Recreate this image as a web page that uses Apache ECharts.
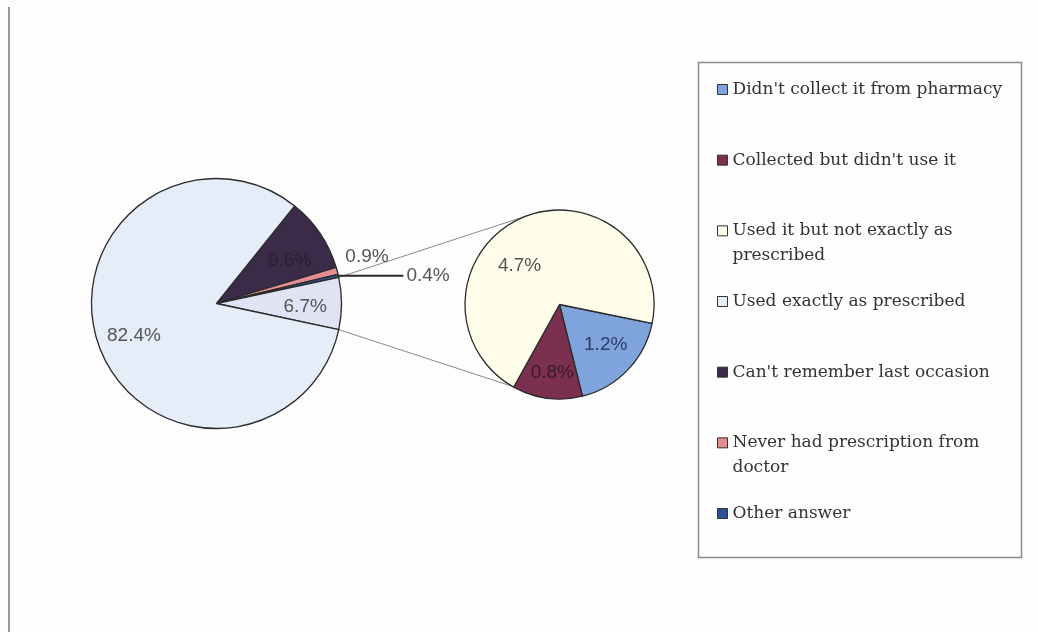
<!DOCTYPE html>
<html>
<head>
<meta charset="utf-8">
<script src="https://cdn.jsdelivr.net/npm/echarts@6/dist/echarts.min.js"></script>
<style>
  html, body { margin: 0; padding: 0; background: #fdfdfd; }
  #chart { width: 1038px; height: 632px; }
</style>
</head>
<body>
<div id="chart"></div>
<script>
// Main pie answers (percent of respondents)
const mainNames = [
  "Can't remember last occasion",
  "Never had prescription from doctor",
  "Other answer",
  "Used exactly as prescribed"
];
const mainValues = [9.6, 0.9, 0.4, 82.4];

// Answers split out into the secondary pie
const subNames = [
  "Didn't collect it from pharmacy",
  "Collected but didn't use it",
  "Used it but not exactly as prescribed"
];
const subValues = [1.2, 0.8, 4.7];

// Legend order
const legendNames = [
  "Didn't collect it from pharmacy",
  "Collected but didn't use it",
  "Used it but not exactly as prescribed",
  "Used exactly as prescribed",
  "Can't remember last occasion",
  "Never had prescription from doctor",
  "Other answer"
];

// ---- styling / layout ----
const COLORS = {
  "Didn't collect it from pharmacy": '#7fa3db',
  "Collected but didn't use it": '#7b3050',
  "Used it but not exactly as prescribed": '#fdfde9',
  "Used exactly as prescribed": '#e5edf8',
  "Can't remember last occasion": '#3b2a48',
  "Never had prescription from doctor": '#e58e92',
  "Other answer": '#2f4f93',
  "Other": '#dfe3f4'
};
const LABEL_COLORS = {
  "Didn't collect it from pharmacy": '#2e3c68',
  "Collected but didn't use it": '#3a1a2a',
  "Can't remember last occasion": '#2a2032'
};
const WRAP = {
  "Used it but not exactly as prescribed": ["Used it but not exactly as", "prescribed"],
  "Never had prescription from doctor": ["Never had prescription from", "doctor"]
};

const MAIN_C = [216.5, 303.5], MAIN_R = 125;
const SUB_C = [559.5, 304.5], SUB_R = 94.5;
const SUB_START = -11.5;
const SUB_LINK_ANGLES = [110, 240];

// label placement: radius factor and angle nudge (degrees) from the slice bisector
const MAIN_LABEL = [[0.68, -3.5], [1.26, 2], null, [0.71, -2], [0.71, 2]];
const SUB_LABEL = [[0.645, 3], [0.73, 1.5], [0.59, 21]];

const groupValue = Math.round(subValues.reduce((a, b) => a + b, 0) * 10) / 10;
const mainData = [
  { name: mainNames[0], value: mainValues[0] },
  { name: mainNames[1], value: mainValues[1] },
  { name: mainNames[2], value: mainValues[2] },
  { name: 'Other', value: groupValue },
  { name: mainNames[3], value: mainValues[3] }
];
const GROUP_IDX = 3;
const mainTotal = mainData.reduce((a, d) => a + d.value, 0);
// rotate so the split-out slice is centred on the right-hand horizontal
let before = 0;
for (let i = 0; i < GROUP_IDX; i++) before += mainData[i].value;
const MAIN_START = (before + groupValue / 2) / mainTotal * 360;

function bisectors(values, start) {
  const total = values.reduce((a, b) => a + b, 0);
  let cum = 0;
  return values.map(v => {
    const mid = start - (cum + v / 2) / total * 360;
    cum += v;
    return mid;
  });
}
const mainMid = bisectors(mainData.map(d => d.value), MAIN_START);
const subMid = bisectors(subValues, SUB_START);

function polar(c, r, deg) {
  const a = deg * Math.PI / 180;
  return [c[0] + r * Math.cos(a), c[1] - r * Math.sin(a)];
}

function makeLayout(mids, place, c, r) {
  return function (p) {
    const cfg = place[p.dataIndex];
    if (!cfg) return {};
    const pt = polar(c, r * cfg[0], mids[p.dataIndex] + cfg[1]);
    return { x: pt[0], y: pt[1], align: 'center', verticalAlign: 'middle' };
  };
}

const labelBase = {
  show: true,
  position: 'inside',
  fontFamily: 'Liberation Sans, Arial, sans-serif',
  fontSize: 19,
  color: '#555555',
  formatter: p => p.value.toFixed(1) + '%'
};

function styled(d) {
  const item = {
    name: d.name,
    value: d.value,
    itemStyle: { color: COLORS[d.name] }
  };
  if (LABEL_COLORS[d.name]) item.label = { color: LABEL_COLORS[d.name] };
  return item;
}

const mainSeriesData = mainData.map(styled);
// small slices carry their labels outside the pie
mainSeriesData[1].label = { position: 'outside' };
mainSeriesData[1].labelLine = { show: false };
mainSeriesData[2].label = { position: 'outside', distanceToLabelLine: 3 };
mainSeriesData[2].labelLine = {
  show: true, length: 1, length2: 64,
  lineStyle: { color: '#2a2a2a', width: 2 }
};

const subSeriesData = subNames.map((n, i) => styled({ name: n, value: subValues[i] }));

// connector lines from the split slice edges to the secondary pie
const groupStart = MAIN_START - before / mainTotal * 360;
const groupEnd = groupStart - groupValue / mainTotal * 360;
const pA = polar(MAIN_C, MAIN_R, groupStart);
const pB = polar(MAIN_C, MAIN_R, groupEnd);
const qA = polar(SUB_C, SUB_R, SUB_LINK_ANGLES[0]);
const qB = polar(SUB_C, SUB_R, SUB_LINK_ANGLES[1]);

// Every legend entry is three lines (75px) tall and centred on its swatch:
// one-line entries are padded above and below, wrapped entries get a blank
// first line so their first real line sits level with the swatch.
const LEGEND_LINE = 25;
const legendData = legendNames.map(name => (
  WRAP[name]
    ? { name: name }
    : { name: name, textStyle: { padding: [LEGEND_LINE, 0, LEGEND_LINE, 0] } }
));
const legendText = name => WRAP[name] ? ' \n' + WRAP[name].join('\n') : name;

const chart = echarts.init(document.getElementById('chart'));
chart.setOption({
  backgroundColor: '#fdfdfd',
  animation: false,
  legend: {
    orient: 'vertical',
    left: 717,
    top: 52,
    padding: 0,
    itemGap: -4.33,
    itemWidth: 10,
    itemHeight: 10,
    icon: 'rect',
    selectedMode: false,
    data: legendData,
    formatter: legendText,
    itemStyle: { borderColor: '#333333', borderWidth: 1 },
    textStyle: {
      fontFamily: 'DejaVu Serif, serif',
      fontSize: 17,
      color: '#333333',
      lineHeight: LEGEND_LINE,
      backgroundColor: 'rgba(0,0,0,0)'
    }
  },
  graphic: [
    { type: 'line', z: -1, shape: { x1: 9, y1: 7, x2: 9, y2: 632 },
      style: { stroke: '#9a9a9a', lineWidth: 2 } },
    { type: 'rect', z: -1, shape: { x: 698.5, y: 62.5, width: 323, height: 495 },
      style: { fill: '#fdfdfd', stroke: '#8a8a8a', lineWidth: 1.5 } },
    { type: 'line', z: 0, shape: { x1: pA[0], y1: pA[1], x2: qA[0], y2: qA[1] },
      style: { stroke: '#8a8a8a', lineWidth: 1 } },
    { type: 'line', z: 0, shape: { x1: pB[0], y1: pB[1], x2: qB[0], y2: qB[1] },
      style: { stroke: '#8a8a8a', lineWidth: 1 } }
  ],
  series: [
    {
      type: 'pie',
      center: MAIN_C,
      radius: MAIN_R,
      startAngle: MAIN_START,
      clockwise: true,
      avoidLabelOverlap: false,
      emphasis: { disabled: true },
      itemStyle: { borderColor: '#2b2b2b', borderWidth: 1.3 },
      label: labelBase,
      labelLine: { show: false },
      labelLayout: makeLayout(mainMid, MAIN_LABEL, MAIN_C, MAIN_R),
      data: mainSeriesData
    },
    {
      type: 'pie',
      center: SUB_C,
      radius: SUB_R,
      startAngle: SUB_START,
      clockwise: true,
      avoidLabelOverlap: false,
      emphasis: { disabled: true },
      itemStyle: { borderColor: '#2b2b2b', borderWidth: 1.3 },
      label: labelBase,
      labelLine: { show: false },
      labelLayout: makeLayout(subMid, SUB_LABEL, SUB_C, SUB_R),
      data: subSeriesData
    }
  ]
});
</script>
</body>
</html>
